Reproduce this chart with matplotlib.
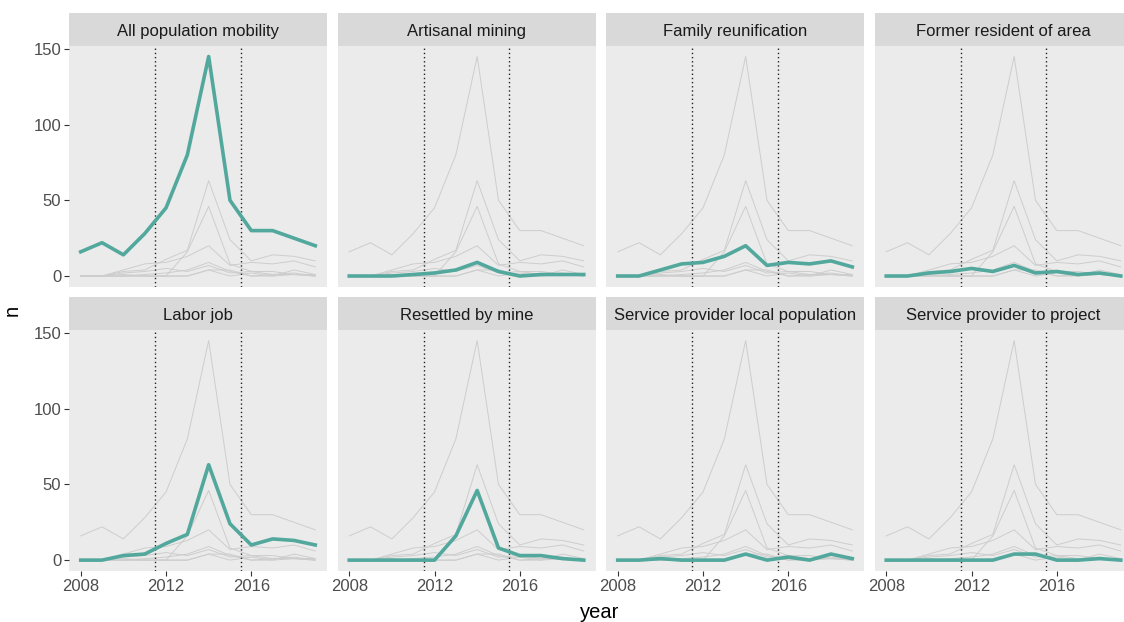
import numpy as np
import matplotlib.pyplot as plt

plt.rcParams['font.family'] = ['Liberation Sans', 'DejaVu Sans']

# yearly counts per reason of movement
years = [2008, 2009, 2010, 2011, 2012, 2013, 2014, 2015, 2016, 2017, 2018, 2019]
reasons = ['All population mobility', 'Artisanal mining', 'Family reunification',
           'Former resident of area', 'Labor job', 'Resettled by mine',
           'Service provider local population', 'Service provider to project']

all_mobility = [16, 22, 14, 28, 45, 80, 145, 50, 30, 30, 25, 20]
artisanal = [0, 0, 0, 1, 2, 4, 9, 3, 0, 1, 1, 1]
family = [0, 0, 4, 8, 9, 13, 20, 7, 9, 8, 10, 6]
former = [0, 0, 2, 3, 5, 3, 7, 2, 3, 1, 2, 0]
labor = [0, 0, 3, 4, 11, 17, 63, 24, 10, 14, 13, 10]
resettled = [0, 0, 0, 0, 0, 16, 46, 8, 3, 3, 1, 0]
local_services = [0, 0, 1, 0, 0, 0, 4, 0, 2, 0, 4, 1]
project_services = [0, 0, 0, 0, 0, 0, 4, 4, 0, 0, 1, 0]

series = [all_mobility, artisanal, family, former,
          labor, resettled, local_services, project_services]

# period markers
breaks = [2011.5, 2015.5]

W, H = 1124, 622
fig = plt.figure(figsize=(W / 100, H / 100), dpi=100)

col_left = [69, 337.5, 606, 874.5]
panel_w = 258
row_top = [45.5, 329.6]
panel_h = 241.5
strip_h = 32.5

teal = '#52A89C'

for i, name in enumerate(reasons):
    r, c = divmod(i, 4)
    left = col_left[c] / W
    bottom = 1 - (row_top[r] + panel_h) / H
    ax = fig.add_axes([left, bottom, panel_w / W, panel_h / H])
    ax.set_facecolor('#EBEBEB')

    for s in series:
        ax.plot(years, s, color='#CDCDCD', lw=0.7, zorder=1)
    for b in breaks:
        ax.axvline(b, color='#222222', lw=1.0, ls=(0, (1, 2)), zorder=2)
    ax.plot(years, series[i], color=teal, lw=2.6, zorder=3)

    ax.set_xlim(2007.45, 2019.55)
    ax.set_ylim(-7.25, 152.25)
    ax.set_xticks([2008, 2012, 2016])
    ax.set_yticks([0, 50, 100, 150])
    for sp in ax.spines.values():
        sp.set_visible(False)
    ax.tick_params(colors='#333333', labelcolor='#4D4D4D', labelsize=12,
                   length=3.5, width=0.8, pad=2)
    if c != 0:
        ax.tick_params(axis='y', left=False, labelleft=False)
    if r != 1:
        ax.tick_params(axis='x', bottom=False, labelbottom=False)

    # facet strip
    sax = fig.add_axes([left, 1 - row_top[r] / H, panel_w / W, strip_h / H])
    sax.set_facecolor('#D9D9D9')
    sax.set_xticks([])
    sax.set_yticks([])
    for sp in sax.spines.values():
        sp.set_visible(False)
    sax.text(0.5, 0.42, name, ha='center', va='center', fontsize=12,
             color='#1A1A1A', transform=sax.transAxes)

fig.text(600 / W, 1 - 612 / H, 'year', ha='center', va='center', fontsize=14.5)
fig.text(12 / W, 1 - 310 / H, 'n', ha='center', va='center', fontsize=14.5,
         rotation=90)

fig.savefig('out.png', dpi=100, facecolor='white')
